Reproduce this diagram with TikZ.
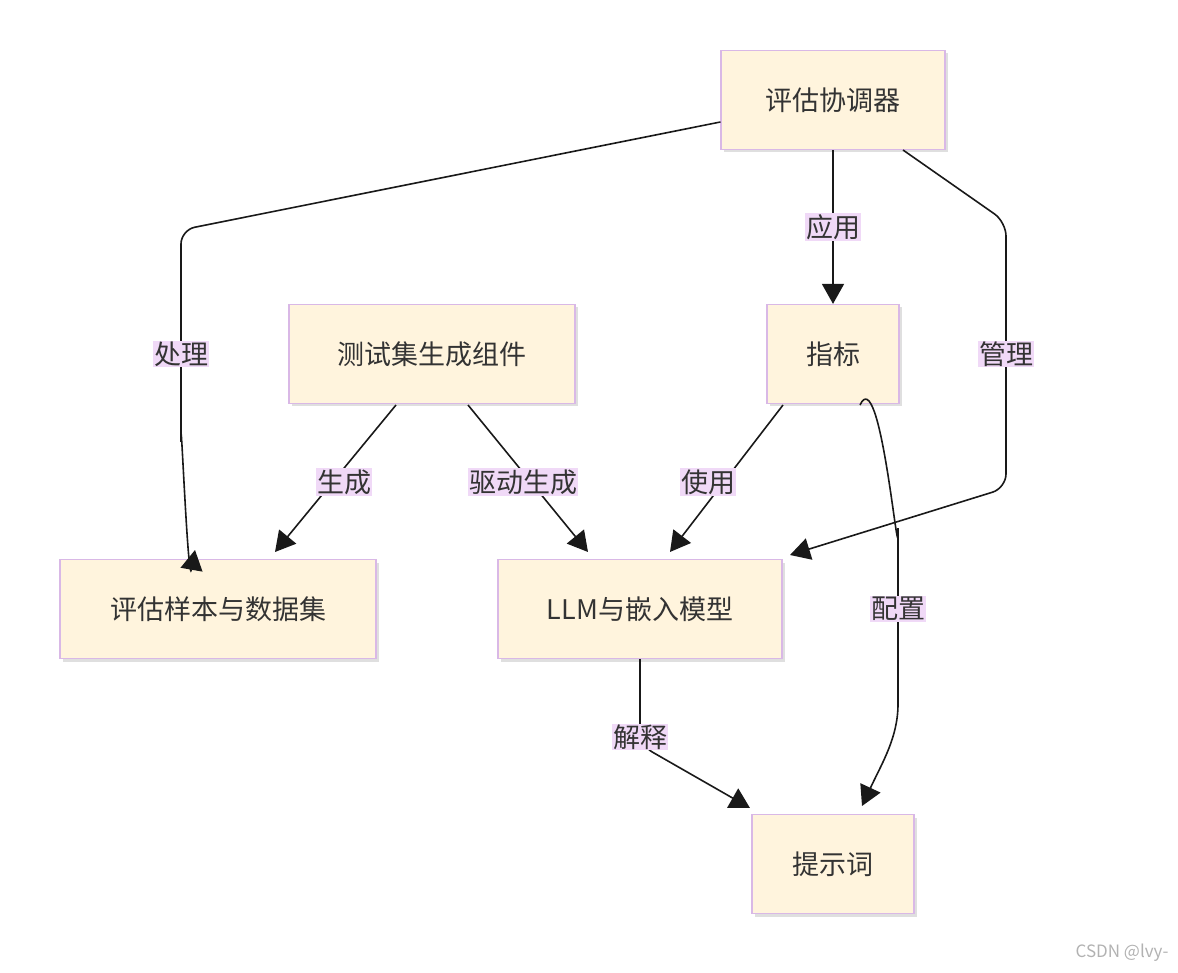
\documentclass[tikz,border=0pt]{standalone}
\usepackage{fontspec}
\setmainfont{Noto Sans CJK SC}
\usetikzlibrary{arrows.meta,shadows}
\definecolor{boxfill}{HTML}{FFF4DD}
\definecolor{boxline}{HTML}{D9B8E6}
\definecolor{lblbg}{HTML}{F0D9F7}
\definecolor{txt}{HTML}{333333}
\begin{document}
\begin{tikzpicture}[x=1pt,y=-1pt,
  box/.style={draw=boxline,fill=boxfill,line width=1.2pt,minimum height=99pt,text=txt,font=\fontsize{27}{30}\selectfont,
    drop shadow={shadow xshift=3pt,shadow yshift=-3pt,fill=black!25}},
  lbl/.style={fill=lblbg,inner sep=1pt,text=txt,font=\fontsize{27}{30}\selectfont},
  edge/.style={line width=1.6pt,draw=black!90,-{Triangle[length=20pt,width=22pt]},rounded corners=14pt}]
\useasboundingbox (0,0) rectangle (1178,973);
\node[box,minimum width=224pt] (coord) at (833,100) {评估协调器};
\node[box,minimum width=286pt] (gen) at (432,354) {测试集生成组件};
\node[box,minimum width=132pt] (met) at (833,354) {指标};
\node[box,minimum width=316pt] (data) at (218,609) {评估样本与数据集};
\node[box,minimum width=284pt] (llm) at (640,609) {LLM与嵌入模型};
\node[box,minimum width=162pt] (prm) at (833,864) {提示词};
\coordinate (e1) at (195,550);
\draw[edge] (coord.west|-0,122) -- (181,230) -- (181,450) to[out=90,in=-100] (e1);
\node[lbl] at (181,354) {处理};
\draw[edge] (coord.south) -- (met.north);
\node[lbl] at (833,227) {应用};
\coordinate (e3) at (790,555);
\draw[edge] (903,150) -- (1006,222) -- (1006,488) -- (e3);
\node[lbl] at (1006,354) {管理};
\draw[edge] (396,405) -- (275,552);
\node[lbl] at (344,482) {生成};
\draw[edge] (468,405) -- (588,552);
\node[lbl] at (523,482) {驱动生成};
\draw[edge] (783,405) -- (670,552);
\node[lbl] at (708,482) {使用};
\coordinate (e7) at (862,806);
\draw[edge] (860,405) to[out=65,in=-90] (898,520) -- (898,690) to[out=-90,in=65] (e7);
\node[lbl] at (898,609) {配置};
\coordinate (e8) at (750,808);
\draw[edge] (llm.south) -- (640,745) -- (e8);
\node[lbl] at (640,737) {解释};
\node[text=black!30,font=\fontsize{17}{20}\selectfont,anchor=east] (wm) at (1172,953) {CSDN @lvy-};
\end{tikzpicture}
\end{document}
